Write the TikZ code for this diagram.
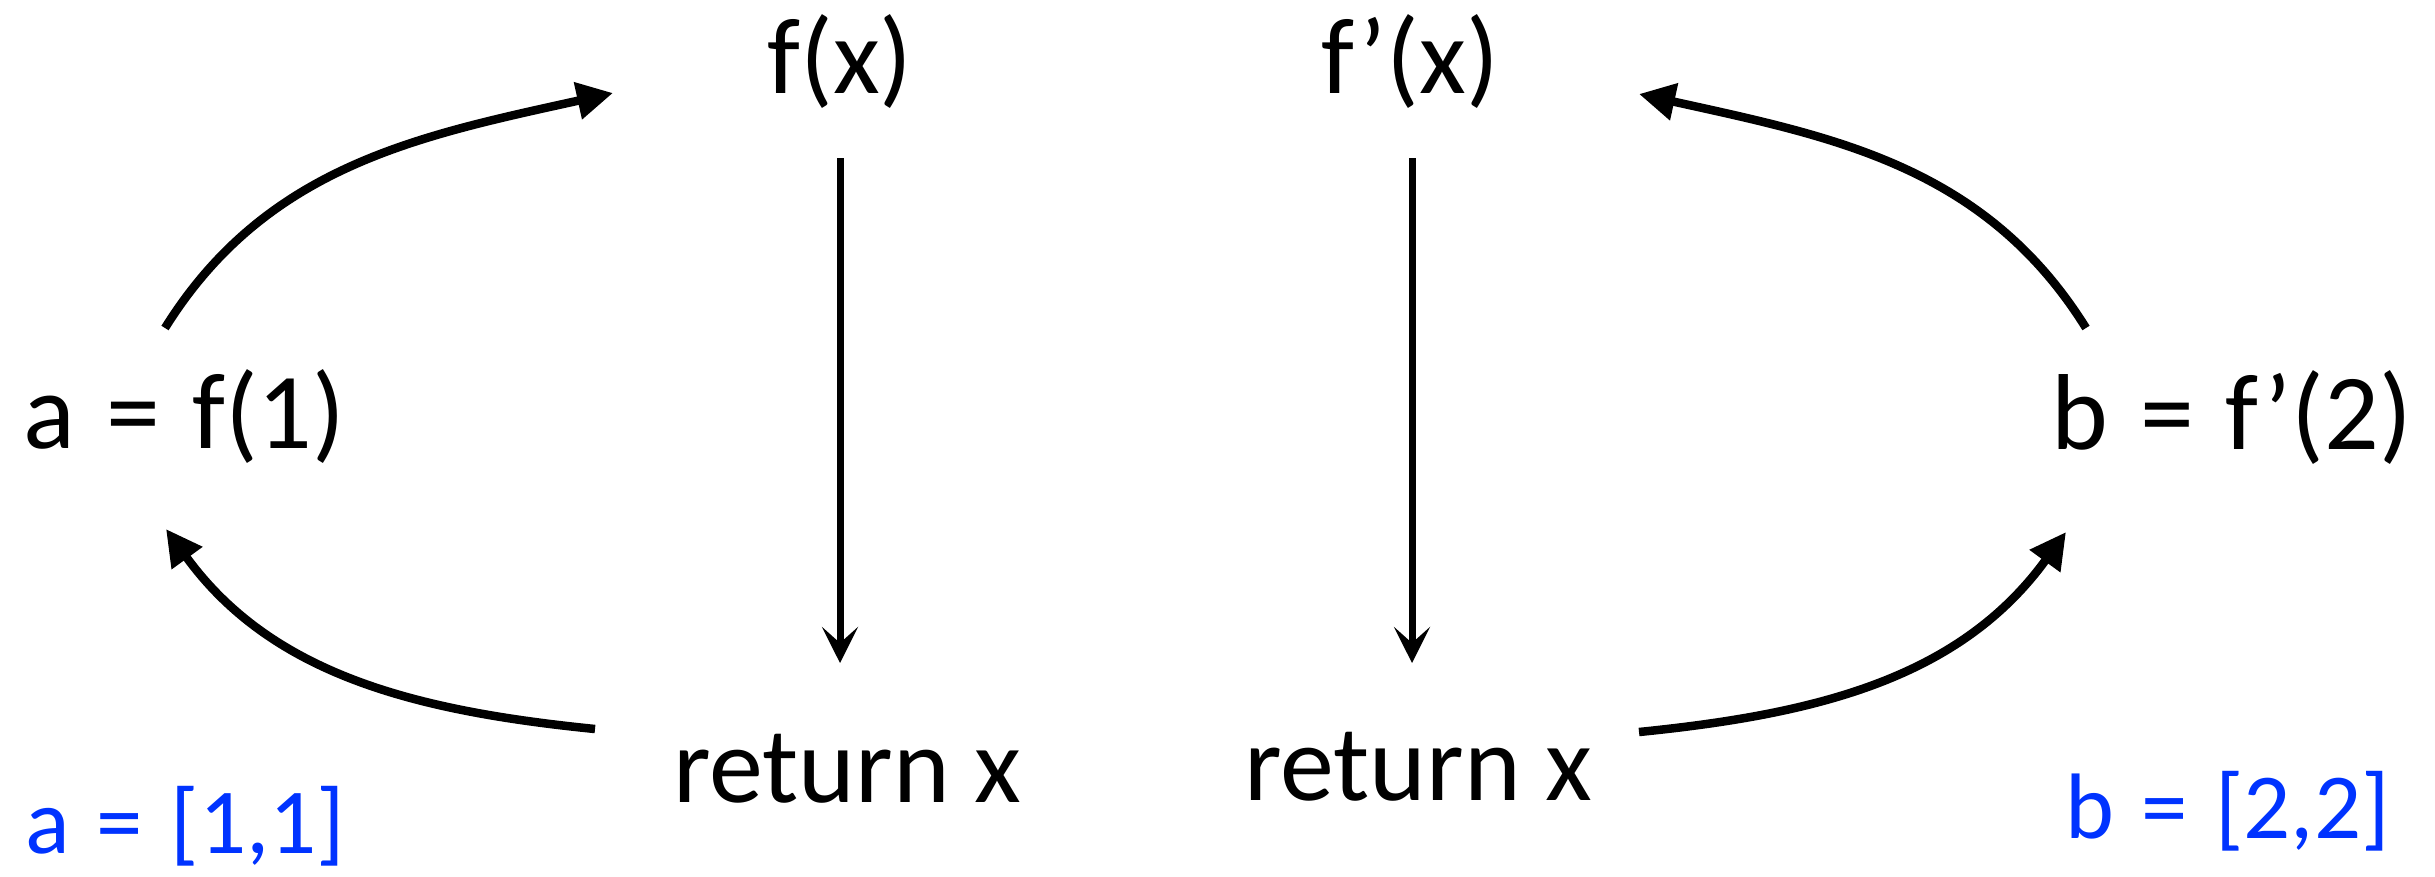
\documentclass[tikz,border=0pt]{standalone}
\usepackage{fontspec}
\setmainfont{Carlito}
\newfontfamily\widefont[WordSpace=1.3]{Carlito}
\usetikzlibrary{arrows.meta}
\definecolor{myblue}{RGB}{0,51,255}
\begin{document}
\begin{tikzpicture}[x=1pt,y=-1pt,
  lbl/.style={inner sep=0pt, font=\fontsize{108}{120}\selectfont},
  wlbl/.style={inner sep=0pt, font=\widefont\fontsize{108}{120}\selectfont},
  blbl/.style={inner sep=0pt, text=myblue, font=\widefont\fontsize{93}{110}\selectfont},
  curv/.style={line width=8.5pt, -{Triangle[length=36pt,width=36pt]}},
  vert/.style={line width=7pt, -{Stealth[length=36pt,width=36pt,inset=16pt]}}]
\useasboundingbox (0,0) rectangle (2435,876);
% nodes
\node[lbl, anchor=base] (fx) at (840,93) {f(x)};
\node[lbl, anchor=base] (fpx) at (1410,93) {f’(x)};
\node[lbl, anchor=base] (r1) at (847,802) {return x};
\node[lbl, anchor=base] (r2) at (1418,800) {return x};
\node[wlbl, anchor=base west] (a) at (23,448) {a = f(1)};
\node[wlbl, anchor=base east] (b) at (2412,449) {b = f’(2)};
\node[blbl, anchor=base west] (av) at (25,853) {a = [1,1]};
\node[blbl, anchor=base east] (bv) at (2390,838) {b = [2,2]};
% connector end points
\coordinate (v1s) at (840,158);
\coordinate (v1e) at (840,663);
\coordinate (v2s) at (1412,158);
\coordinate (v2e) at (1412,663);
\coordinate (tls) at (165,328);
\coordinate (tle) at (613,93);
\coordinate (bls) at (595,729);
\coordinate (ble) at (166,529);
\coordinate (trs) at (2086,328);
\coordinate (tre) at (1639,94);
\coordinate (brs) at (1639,732);
\coordinate (bre) at (2066,532);
% connectors
\draw[vert] (v1s) -- (v1e);
\draw[vert] (v2s) -- (v2e);
\draw[curv] (tls) .. controls (266,166) and (418,136) .. (tle);
\draw[curv] (trs) .. controls (1985,166) and (1834,137) .. (tre);
\draw[curv] (bls) .. controls (416,711) and (272,675) .. (ble);
\draw[curv] (brs) .. controls (1818,714) and (1960,678) .. (bre);
\end{tikzpicture}
\end{document}
